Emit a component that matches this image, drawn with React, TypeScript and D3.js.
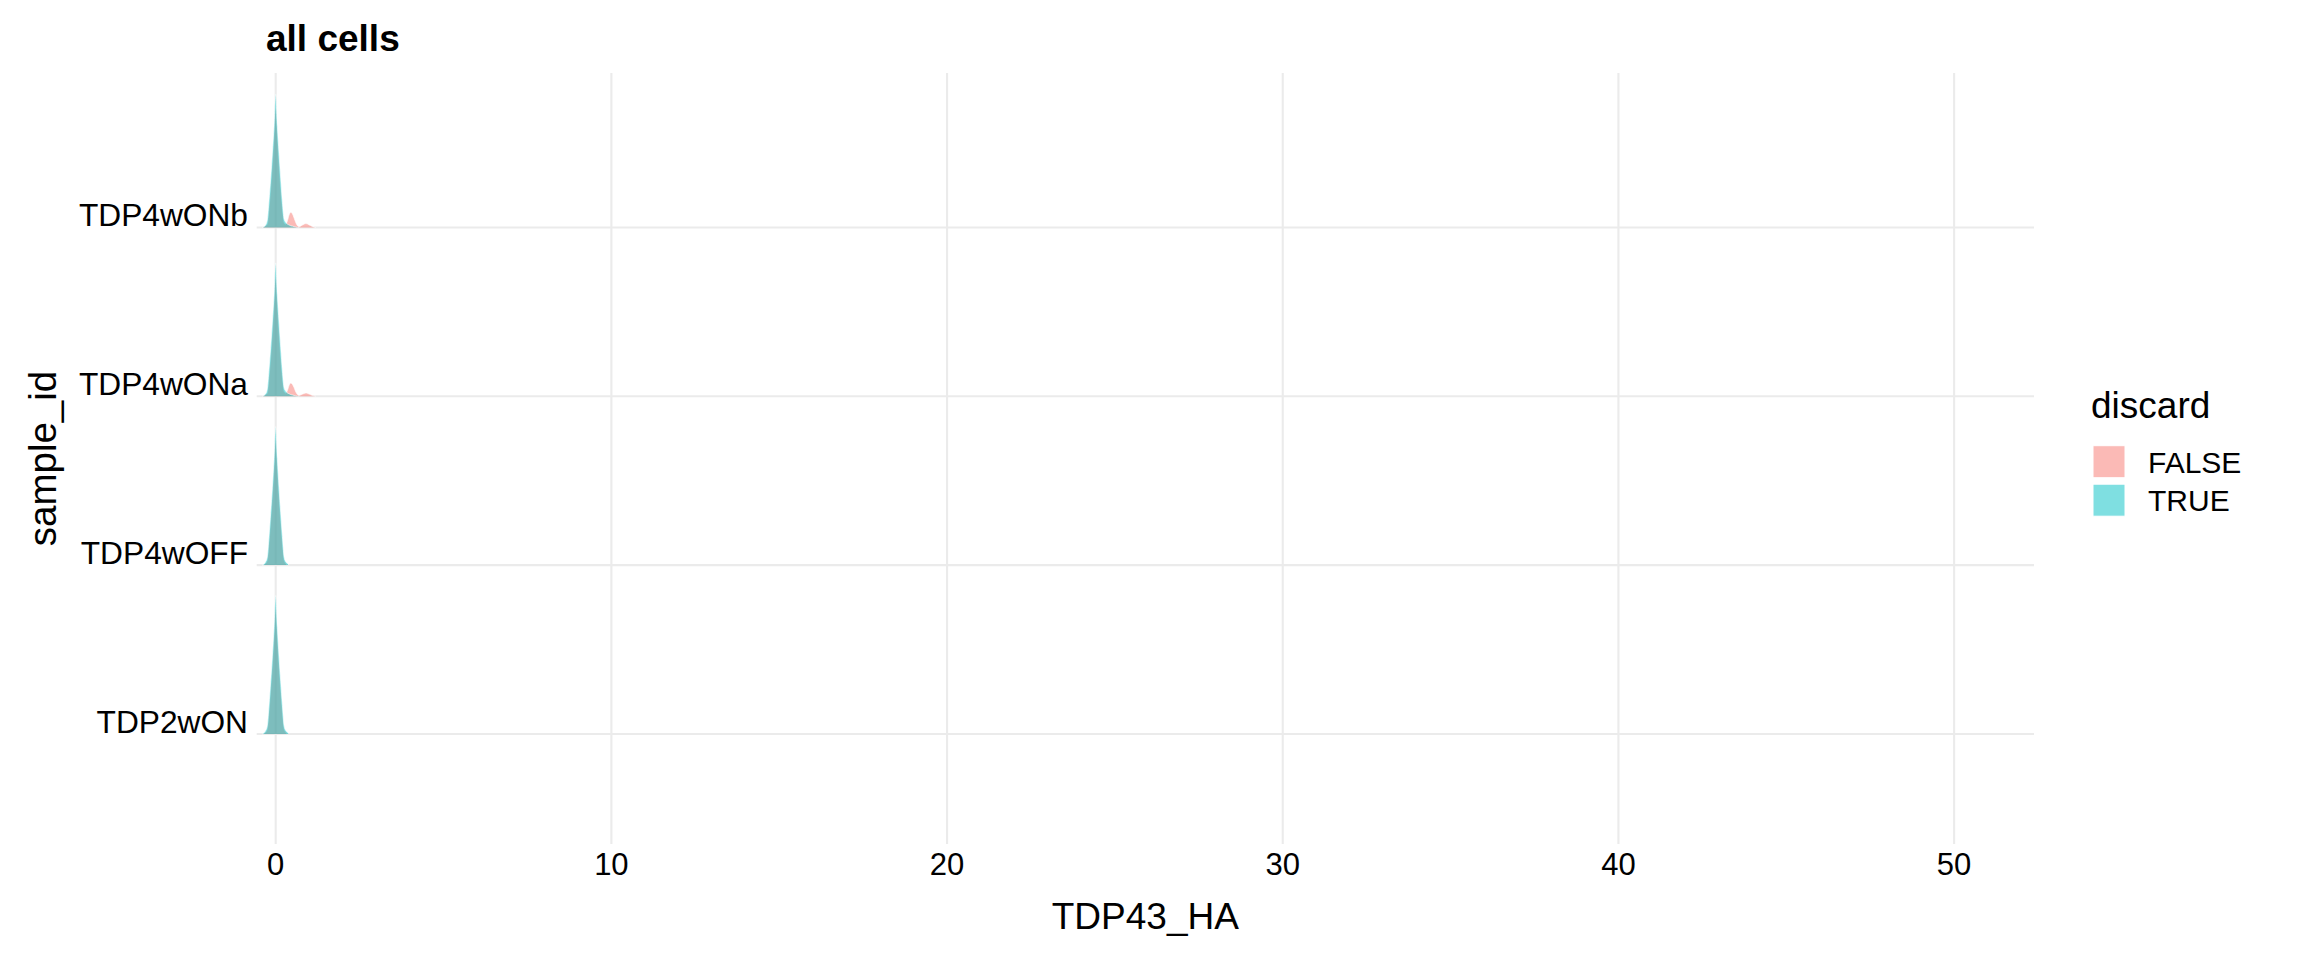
import React from "react";
import * as d3 from "d3";

// ---- data ----
const samples = ["TDP2wON", "TDP4wOFF", "TDP4wONa", "TDP4wONb"];
const groups = ["FALSE", "TRUE"];
const groupColors = ["#F8766D", "#00BFC4"];
const xTicks = [0, 10, 20, 30, 40, 50];

// density grid (TDP43_HA)
const densX = [-0.4, -0.3, -0.25, -0.2, -0.15, -0.1, -0.05, 0, 0.05, 0.1, 0.15, 0.2, 0.25, 0.3, 0.35, 0.4, 0.45, 0.5, 0.55, 0.6, 0.65, 0.7, 0.8, 0.9, 1.0, 1.1, 1.2];

// ridge heights (in row units) per sample, per discard group
const trueTDP2wON = [0, 0.02, 0.05, 0.17, 0.31, 0.46, 0.63, 0.82, 0.63, 0.46, 0.31, 0.17, 0.05, 0.02, 0.01, 0, 0, 0, 0, 0, 0, 0, 0, 0, 0, 0, 0];
const falseTDP2wON = [0, 0.01, 0.03, 0.13, 0.26, 0.41, 0.58, 0.76, 0.58, 0.41, 0.26, 0.13, 0.03, 0.01, 0, 0, 0, 0, 0, 0, 0, 0, 0, 0, 0, 0, 0];
const trueTDP4wOFF = [0, 0.02, 0.05, 0.17, 0.31, 0.46, 0.63, 0.82, 0.63, 0.46, 0.31, 0.17, 0.05, 0.02, 0.01, 0, 0, 0, 0, 0, 0, 0, 0, 0, 0, 0, 0];
const falseTDP4wOFF = [0, 0.01, 0.03, 0.13, 0.26, 0.41, 0.58, 0.76, 0.58, 0.41, 0.26, 0.13, 0.03, 0.01, 0, 0, 0, 0, 0, 0, 0, 0, 0, 0, 0, 0, 0];
const trueTDP4wONa = [0, 0.015, 0.045, 0.16, 0.29, 0.44, 0.6, 0.79, 0.6, 0.44, 0.29, 0.15, 0.05, 0.03, 0.02, 0.015, 0.01, 0.008, 0.005, 0.003, 0.001, 0, 0, 0, 0, 0, 0];
const falseTDP4wONa = [0, 0.01, 0.02, 0.11, 0.23, 0.38, 0.55, 0.72, 0.55, 0.38, 0.23, 0.11, 0.03, 0.02, 0.035, 0.065, 0.078, 0.07, 0.05, 0.025, 0.01, 0.005, 0.013, 0.02, 0.013, 0.004, 0];
const trueTDP4wONb = [0, 0.015, 0.045, 0.16, 0.29, 0.44, 0.6, 0.79, 0.6, 0.44, 0.29, 0.15, 0.05, 0.03, 0.02, 0.015, 0.01, 0.008, 0.005, 0.003, 0.001, 0, 0, 0, 0, 0, 0];
const falseTDP4wONb = [0, 0.01, 0.02, 0.11, 0.23, 0.38, 0.55, 0.72, 0.55, 0.38, 0.23, 0.11, 0.03, 0.02, 0.04, 0.075, 0.09, 0.08, 0.055, 0.028, 0.01, 0.005, 0.015, 0.023, 0.015, 0.005, 0];

const ridgeData = [
  [falseTDP2wON, trueTDP2wON],
  [falseTDP4wOFF, trueTDP4wOFF],
  [falseTDP4wONa, trueTDP4wONa],
  [falseTDP4wONb, trueTDP4wONb],
];

const W = 2304;
const H = 960;
const FONT = "'Liberation Sans', Arial, Helvetica, sans-serif";

export default function App() {
  const panel = { left: 256.7, right: 2034, top: 73, bottom: 844 };
  const x = d3.scaleLinear().domain([-0.566, 52.38]).range([panel.left, panel.right]);
  const y = d3.scaleLinear().domain([0.348, 4.915]).range([panel.bottom, panel.top]);
  const grid = "#EBEBEB";

  const ridges: React.ReactNode[] = [];
  samples.forEach((s, si) => {
    const base = si + 1;
    groups.forEach((g, gi) => {
      const vals = ridgeData[si][gi];
      const pts = densX.map((dx, k) => [dx, vals[k]] as [number, number]);
      const area = d3
        .area<[number, number]>()
        .x((d) => x(d[0]))
        .y0(y(base))
        .y1((d) => y(base + d[1]))
        .curve(d3.curveMonotoneX);
      const nz = pts.filter((d, k) => d[1] > 0 || (vals[k - 1] ?? 0) > 0 || (vals[k + 1] ?? 0) > 0);
      const line = d3
        .line<[number, number]>()
        .x((d) => x(d[0]))
        .y((d) => y(base + d[1]))
        .curve(d3.curveMonotoneX);
      ridges.push(
        <g key={s + g}>
          <path d={area(pts) || ""} fill={groupColors[gi]} fillOpacity={0.5} stroke="none" />
          <path d={line(nz) || ""} fill="none" stroke="#ffffff" strokeOpacity={0.6} strokeWidth={1} />
        </g>
      );
    });
  });

  return (
    <svg
      width={W}
      height={H}
      style={{ position: "absolute", left: 0, top: 0, background: "#fff" }}
      fontFamily={FONT}
    >
      <rect x={0} y={0} width={W} height={H} fill="#fff" />
      {/* grid */}
      {xTicks.map((t) => (
        <line key={"v" + t} x1={x(t)} x2={x(t)} y1={panel.top} y2={panel.bottom} stroke={grid} strokeWidth={2.1} />
      ))}
      {samples.map((s, i) => (
        <line key={"h" + s} x1={panel.left} x2={panel.right} y1={y(i + 1)} y2={y(i + 1)} stroke={grid} strokeWidth={2.1} />
      ))}
      {ridges}
      {/* x tick labels */}
      {xTicks.map((t) => (
        <text key={"xt" + t} x={x(t)} y={875} fontSize={31} textAnchor="middle" fill="#000">
          {t}
        </text>
      ))}
      {/* y tick labels */}
      {samples.map((s, i) => (
        <text key={"yt" + s} x={248} y={y(i + 1) - 1} fontSize={31.7} textAnchor="end" fill="#000">
          {s}
        </text>
      ))}
      {/* axis titles */}
      <text x={(panel.left + panel.right) / 2} y={929} fontSize={37} textAnchor="middle" fill="#000">
        TDP43_HA
      </text>
      <text
        transform={`translate(56,${(panel.top + panel.bottom) / 2}) rotate(-90)`}
        fontSize={38.5}
        textAnchor="middle"
        fill="#000"
      >
        sample_id
      </text>
      {/* title */}
      <text x={266} y={51} fontSize={37} fontWeight="bold" fill="#000">
        all cells
      </text>
      {/* legend */}
      <text x={2091} y={418} fontSize={37} fill="#000">
        discard
      </text>
      {groups.map((g, i) => {
        const ky = 445.7 + i * 38.5;
        return (
          <g key={"lg" + g}>
            <rect x={2093} y={ky} width={32} height={32} fill={groupColors[i]} fillOpacity={0.5} stroke="#fff" strokeWidth={1} />
            <text x={2148} y={ky + 16 + 11} fontSize={30} fill="#000">
              {g}
            </text>
          </g>
        );
      })}
    </svg>
  );
}
